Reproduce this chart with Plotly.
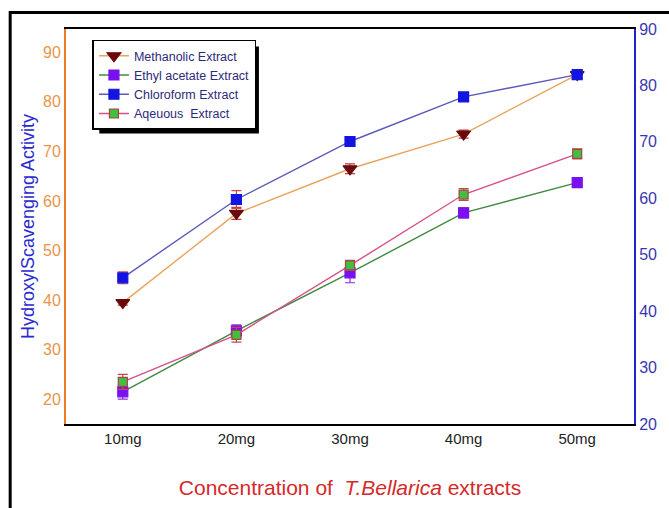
import plotly.graph_objects as go

categories = ["10mg", "20mg", "30mg", "40mg", "50mg"]
methanolic = [39.5, 57.5, 66.5, 73.5, 85.5]
methanolic_err = [0.5, 1.2, 1.0, 0.8, 0.8]
ethyl = [21.5, 33.8, 45.5, 57.6, 63.7]
ethyl_err = [1.5, 1.2, 2.0, 1.0, 0.5]
chloroform = [44.5, 60.3, 72.0, 81.0, 85.5]
chloroform_err = [1.2, 1.8, 0.5, 0.5, 0.5]
aqueous = [23.5, 33.0, 47.0, 61.3, 69.5]
aqueous_err = [1.5, 1.5, 1.0, 1.2, 1.0]
left_ticks = [20, 30, 40, 50, 60, 70, 80, 90]
right_ticks = [20, 30, 40, 50, 60, 70, 80, 90]

W, H = 669, 508
L, R, T, B = 66, 646, 29, 437

def px(x):
    return (x - L) / (R - L)

def py(y):
    return 1 - (y - T) / (B - T)

fig = go.Figure()

def add(name, y, err, line_color, marker_color, symbol, size, err_color, edge=None):
    fig.add_trace(go.Scatter(
        x=categories, y=y, name=name, mode="lines+markers",
        line=dict(color=line_color, width=1.4),
        marker=dict(symbol=symbol, size=size, color=marker_color,
                    line=dict(color=edge or marker_color, width=1.2)),
        error_y=dict(type="data", array=err, visible=True, color=err_color,
                     thickness=1.2, width=5),
    ))

add("Methanolic Extract", methanolic, methanolic_err, "#e8a45c", "#6a0a0a", "triangle-down", 12, "#c03838")
add("Ethyl acetate Extract", ethyl, ethyl_err, "#3f8a3f", "#7a10f0", "square", 10, "#8a30e0")
add("Chloroform Extract", chloroform, chloroform_err, "#5a5ab8", "#1414e0", "square", 10, "#d04848")
add("Aqeuous  Extract", aqueous, aqueous_err, "#d8508a", "#40c040", "square", 9, "#c04848", edge="#b04040")

# invisible trace to activate right axis
fig.add_trace(go.Scatter(x=categories, y=[None]*5, yaxis="y2", showlegend=False,
                         hoverinfo="skip"))

fig.update_layout(
    width=W, height=H,
    margin=dict(l=L, r=W - R, t=T, b=H - B),
    paper_bgcolor="white", plot_bgcolor="white",
    font=dict(family="Arial, Liberation Sans, sans-serif"),
    xaxis=dict(type="category", range=[-0.5, 4.5], showgrid=False, zeroline=False,
               showline=True, linecolor="black", linewidth=2, mirror=True,
               ticks="", tickfont=dict(size=15, color="#222222"),
               title=dict(text="Concentration of  <i>T.Bellarica</i> extracts",
                          font=dict(size=21, color="#d42a2a"), standoff=34)),
    yaxis=dict(range=[15, 94.7], tickvals=left_ticks, showgrid=False, zeroline=False,
               showline=True, linecolor="#f07a1e", linewidth=2, ticks="",
               ticklabelstandoff=0,
               tickfont=dict(size=16, color="#e8954a"),
               title=dict(text="HydroxylScavenging Activity",
                          font=dict(size=18, color="#2a2ad0"), standoff=4)),
    yaxis2=dict(range=[20, 90], tickvals=right_ticks, overlaying="y", side="right",
                showgrid=False, zeroline=False, showline=True, linecolor="#2222cc",
                linewidth=2, ticks="", ticklabelstandoff=0,
                tickfont=dict(size=16, color="#3838b0")),
    legend=dict(x=px(93), y=py(40), xanchor="left", yanchor="top",
                bgcolor="white", bordercolor="black", borderwidth=1.5,
                font=dict(size=12.5, color="#2e2a7a"), tracegroupgap=0,
                itemwidth=30),
    showlegend=True,
)

# legend drop shadow
fig.add_shape(type="rect", xref="paper", yref="paper",
              x0=px(100), x1=px(263), y0=py(137), y1=py(47),
              fillcolor="black", line=dict(width=0), layer="above")
# outer frame
fig.add_shape(type="rect", xref="paper", yref="paper",
              x0=px(9), x1=px(720), y0=py(600), y1=py(12),
              line=dict(color="black", width=3), fillcolor="rgba(0,0,0,0)")

fig.write_html("out.html")
